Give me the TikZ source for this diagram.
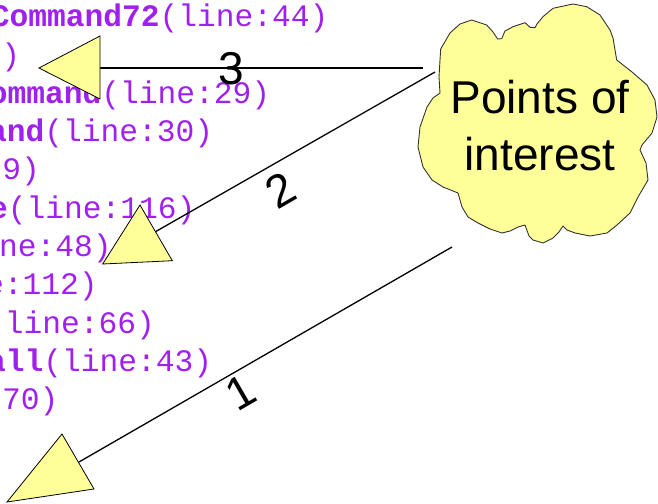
\documentclass[tikz,border=0pt]{standalone}
\usepackage{fontspec}
\setmainfont{Liberation Sans}
\newfontfamily\codefont{Liberation Mono}
\definecolor{codepurple}{RGB}{160,32,240}
\definecolor{cloudyellow}{RGB}{255,255,153}
\begin{document}
\begin{tikzpicture}[x=1pt,y=-1pt,
  codeline/.style={anchor=base west, inner sep=0pt, text=codepurple,
    font=\codefont\fontsize{31.25}{38}\selectfont},
  lbl/.style={font=\fontsize{46}{57}\selectfont, inner sep=0pt},
  conn/.style={line width=1.3pt, draw=black},
  head/.style={fill=cloudyellow, draw=black, line width=0.8pt, line join=miter},
  cloudstyle/.style={fill=cloudyellow, draw=black!80, line width=0.9pt, line join=round}]
\useasboundingbox (0,0) rectangle (658,503);
\clip (0,0) rectangle (658,503);

% code listing
\node[codeline] (l1)  at (-9.4,26.7)   {\textbf{Command72}(line:44)};
\node[codeline] (l2)  at (-17.5,65.0)  {3)};
\node[codeline] (l3)  at (-30,103.3)   {\textbf{Command}(line:29)};
\node[codeline] (l4)  at (-12,141.6)   {\textbf{and}(line:30)};
\node[codeline] (l5)  at (-16.5,179.9) {29)};
\node[codeline] (l6)  at (-11,218.2)   {\textbf{e}(line:116)};
\node[codeline] (l7)  at (-38.5,256.5) {line:48)};
\node[codeline] (l8)  at (-15,294.8)   {e:112)};
\node[codeline] (l9)  at (-14,333.1)   {(line:66)};
\node[codeline] (l10) at (-13,371.4)   {\textbf{all}(line:43)};
\node[codeline] (l11) at (1.8,409.7)   {70)};

% cloud
\draw[cloudstyle] (440,60) -- (440.7,49) -- (450,33) -- (460,24) -- (471.7,20) -- (486.7,25)
  -- (493,32) -- (497.7,39) -- (501.7,38.7) -- (505,31) -- (513,26.7) -- (525,22.7)
  -- (530,27.3) -- (535,27.7) -- (537,24) -- (543,16.7) -- (553,8.3) -- (573,4)
  -- (586.7,6.7) -- (600,15) -- (610,30) -- (613,38) -- (616.7,60) -- (632,72)
  -- (647,85) -- (655,100) -- (657,117) -- (652,133) -- (642,145) -- (640,150)
  -- (646,163) -- (648,180) -- (638,197) -- (630,213) -- (617,225) -- (607,233)
  -- (590,236) -- (575,233) -- (567,230) -- (563,226) -- (559,232) -- (553,238)
  -- (543,243) -- (533,240) -- (529,236) -- (525,225) -- (518,227) -- (510,231)
  -- (502,233) -- (490,229) -- (478,223) -- (468,217) -- (462,207) -- (458,193)
  -- (443,187) -- (432,180) -- (423,167) -- (418,147) -- (420,127) -- (427,107)
  -- (433,98) -- (440,93) -- (439,77) -- cycle;
\node[lbl, align=center, anchor=base] (poi) at (540,170) {Points of\\interest};

% connector start points
\coordinate (s3) at (423,68);
\coordinate (s2) at (435,72);
\coordinate (s1) at (452,247);
% arrowhead attachment points
\coordinate (h3) at (100,68);
\coordinate (h2) at (155.5,231.7);
\coordinate (h1) at (79,462);

\draw[conn] (s3) -- (h3);
\draw[conn] (s2) -- (h2);
\draw[conn] (s1) -- (h1);

% arrowheads
\draw[head] (39,68) -- (100,36) -- (100,99) -- cycle;
\draw[head] (140,205) -- (172.3,260.7) -- (102.7,264) -- cycle;
\draw[head] (7,502) -- (62,434) -- (94,489) -- cycle;

% labels
\node[lbl] (n3) at (231,68.5) {3};
\node[lbl, rotate=30] (n2) at (281,190.5) {2};
\node[lbl, rotate=30] (n1) at (241,392) {1};
\end{tikzpicture}
\end{document}
